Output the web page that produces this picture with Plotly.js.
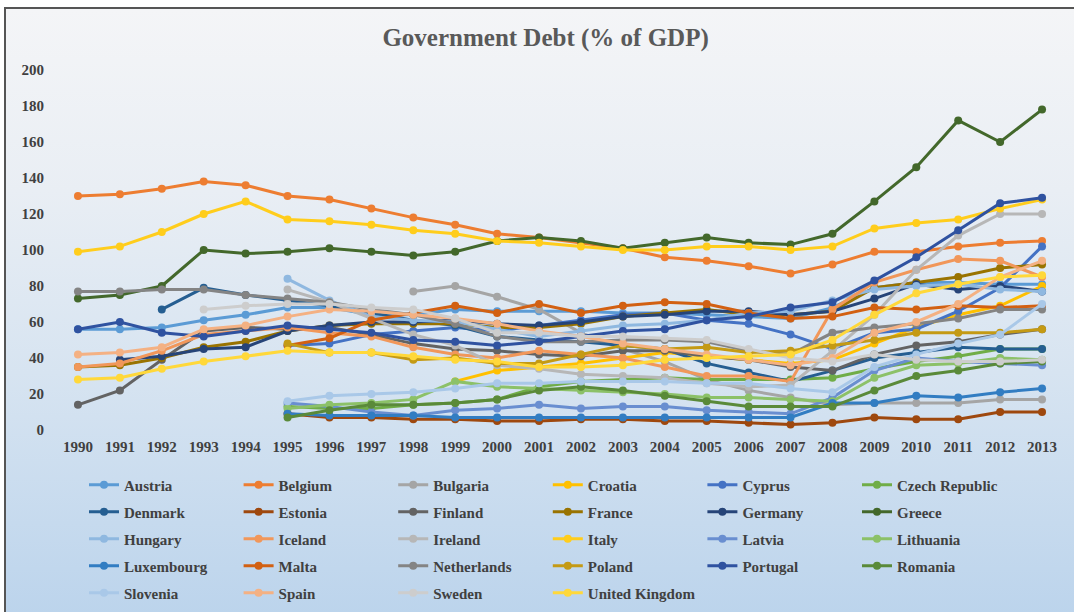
<!DOCTYPE html>
<html>
<head>
<meta charset="utf-8">
<script src="https://cdn.plot.ly/plotly-3.0.1.min.js"></script>
<style>
  html, body { margin: 0; padding: 0; background: #ffffff; }
  #frame {
    position: absolute; left: 4px; top: 7px; width: 1068px; height: 605px;
    border-left: 2px solid #555; border-top: 2px solid #555;
    background: linear-gradient(to bottom, #f4f5f7 0%, #e9eef4 30%, #d7e4f1 60%, #c6daee 85%, #bcd4ec 100%);
  }
  #chart { position: absolute; left: 0; top: 0; width: 1074px; height: 612px; }
</style>
</head>
<body>
<div id="frame"></div>
<div id="chart"></div>
<script>
// ---- data ----
const years = ["1990","1991","1992","1993","1994","1995","1996","1997","1998","1999","2000","2001","2002","2003","2004","2005","2006","2007","2008","2009","2010","2011","2012","2013"];

const austria      = [56,56,57,61,64,68,68,64,64,67,66,66,66,65,65,64,63,62,68,79,82,82,81,81];
const belgium      = [130,131,134,138,136,130,128,123,118,114,109,107,104,101,96,94,91,87,92,99,99,102,104,105];
const bulgaria     = [null,null,null,null,null,null,null,null,77,80,74,67,54,45,38,28,22,18,14,15,15,15,17,17];
const croatia      = [null,null,null,null,null,null,null,null,null,27,33,35,37,40,43,41,39,37,39,48,57,64,69,80];
const cyprus       = [null,null,null,null,null,47,48,53,55,57,55,58,61,64,65,61,59,53,45,54,56,66,79,102];
const czech        = [null,null,null,null,null,13,12,12,14,15,17,24,27,28,29,28,28,28,29,34,38,41,45,45];
const denmark      = [null,null,67,79,75,72,69,65,61,58,52,50,49,47,45,37,32,27,33,40,43,46,45,45];
const estonia      = [null,null,null,null,null,9,7,7,6,6,5,5,6,6,5,5,4,3,4,7,6,6,10,10];
const finland      = [14,22,39,55,57,56,57,53,48,45,44,42,41,44,44,41,39,35,33,42,47,49,53,56];
const france       = [35,36,40,46,49,55,58,59,59,59,57,57,59,63,65,67,64,64,66,79,82,85,90,92];
const germany      = [null,39,41,45,46,55,58,60,60,61,59,58,60,63,64,66,66,64,66,73,81,78,80,77];
const greece       = [73,75,80,100,98,99,101,99,97,99,105,107,105,101,104,107,104,103,109,127,146,172,160,178];
const hungary      = [null,null,null,null,null,84,72,63,61,60,56,52,55,58,59,61,65,66,72,78,80,81,78,77];
const iceland      = [35,37,44,53,55,57,54,52,46,42,40,44,42,40,35,30,30,27,67,82,89,95,94,85];
const ireland      = [null,null,null,null,null,78,71,62,53,47,36,34,31,30,29,26,24,25,44,64,89,108,120,120];
const italy        = [99,102,110,120,127,117,116,114,111,109,105,104,102,100,100,102,102,100,102,112,115,117,123,128];
const latvia       = [null,null,null,null,null,15,13,10,8,11,12,14,12,13,13,11,10,9,18,33,40,38,37,36];
const lithuania    = [null,null,null,null,null,12,14,15,17,27,24,23,22,21,20,18,18,17,16,29,36,37,40,39];
const luxembourg   = [null,null,null,null,null,9,8,8,8,7,7,7,7,7,7,7,7,7,15,15,19,18,21,23];
const malta        = [null,null,null,null,null,47,51,61,65,69,65,70,65,69,71,70,65,62,63,68,67,69,68,69];
const netherlands  = [77,77,78,78,75,73,71,67,64,59,52,49,49,50,50,49,44,42,54,57,59,62,67,67];
const poland       = [null,null,null,null,null,48,43,43,39,40,37,37,42,47,45,46,43,44,47,50,54,54,54,56];
const portugal     = [56,60,54,52,55,58,56,54,50,49,47,49,52,55,56,61,63,68,71,83,96,111,126,129];
const romania      = [null,null,null,null,null,7,11,14,14,15,17,22,24,22,19,16,13,13,13,22,30,33,37,38];
const slovenia     = [null,null,null,null,null,16,19,20,21,23,26,26,27,27,27,26,26,23,21,35,42,48,53,70];
const spain        = [42,43,46,56,58,63,67,66,64,62,59,55,52,48,45,42,39,36,40,54,60,70,85,94];
const sweden       = [null,null,null,67,69,70,70,68,67,62,54,54,52,52,51,50,45,40,38,42,39,38,38,39];
const uk           = [28,29,34,38,41,44,43,43,41,39,38,35,35,36,39,40,41,42,50,64,76,81,85,86];

const countries = ["Austria","Belgium","Bulgaria","Croatia","Cyprus","Czech Republic","Denmark","Estonia","Finland","France","Germany","Greece","Hungary","Iceland","Ireland","Italy","Latvia","Lithuania","Luxembourg","Malta","Netherlands","Poland","Portugal","Romania","Slovenia","Spain","Sweden","United Kingdom"];
const series = [austria,belgium,bulgaria,croatia,cyprus,czech,denmark,estonia,finland,france,germany,greece,hungary,iceland,ireland,italy,latvia,lithuania,luxembourg,malta,netherlands,poland,portugal,romania,slovenia,spain,sweden,uk];
const yTicks = [0,20,40,60,80,100,120,140,160,180,200];

// ---- styles ----
const colors = ["#5B9BD5","#ED7D31","#A5A5A5","#FFC000","#4472C4","#70AD47","#255E91","#9E480E","#636363","#997300","#264478","#43682B",
                "#8FB8E0","#F1975A","#B7B7B7","#FFCD1C","#698ED0","#8CC168","#327DC2","#D26012","#848484","#C49A14","#2F52A0","#5A8A39",
                "#A9C8E8","#F4B183","#CDCDCD","#FFD83A"];

const serif = "Liberation Serif, Times New Roman, serif";
const perRow = 6;
const legendIds = ["legend","legend2","legend3","legend4","legend5"];

const traces = countries.map((name, i) => ({
  type: "scatter", mode: "lines+markers", name: name,
  x: years, y: series[i],
  line: {color: colors[i], width: 3},
  marker: {color: colors[i], size: 8, symbol: "circle"},
  connectgaps: false,
  legend: legendIds[Math.floor(i / perRow)]
}));

const H = 612;
const rowCenters = [485, 512, 539, 566, 593];
const legendFont = {family: serif, size: 15, color: "#404040", weight: "bold"};

const layout = {
  width: 1074, height: H,
  paper_bgcolor: "rgba(0,0,0,0)", plot_bgcolor: "rgba(0,0,0,0)",
  margin: {l: 57, r: 11, t: 70, b: 182, autoexpand: false},
  title: {text: "Government Debt (% of GDP)", x: 0.508, xref: "container", xanchor: "center",
          y: 1 - 37/H, yref: "container", yanchor: "middle",
          font: {family: serif, size: 25, color: "#595959", weight: "bold"}},
  xaxis: {type: "category", range: [-0.5, 23.5], showgrid: false, zeroline: false, showline: false,
          ticks: "", ticklabelstandoff: 6, tickfont: {family: serif, size: 15, color: "#404040", weight: "bold"}},
  yaxis: {range: [0, 200], tickvals: yTicks, ticktext: yTicks.map(String), showgrid: false, zeroline: false, showline: false,
          ticks: "", ticklabelstandoff: 12, tickfont: {family: serif, size: 15, color: "#404040", weight: "bold"}},
  showlegend: true
};

legendIds.forEach((id, r) => {
  layout[id] = {orientation: "h", x: 27/1006, xanchor: "left",
                y: 1 - rowCenters[r] / H, yref: "container", yanchor: "middle",
                entrywidth: 109.6, entrywidthmode: "pixels", traceorder: "normal",
                bgcolor: "rgba(0,0,0,0)", borderwidth: 0, font: legendFont};
});

Plotly.newPlot("chart", traces, layout, {displayModeBar: false, staticPlot: true});
</script>
</body>
</html>
